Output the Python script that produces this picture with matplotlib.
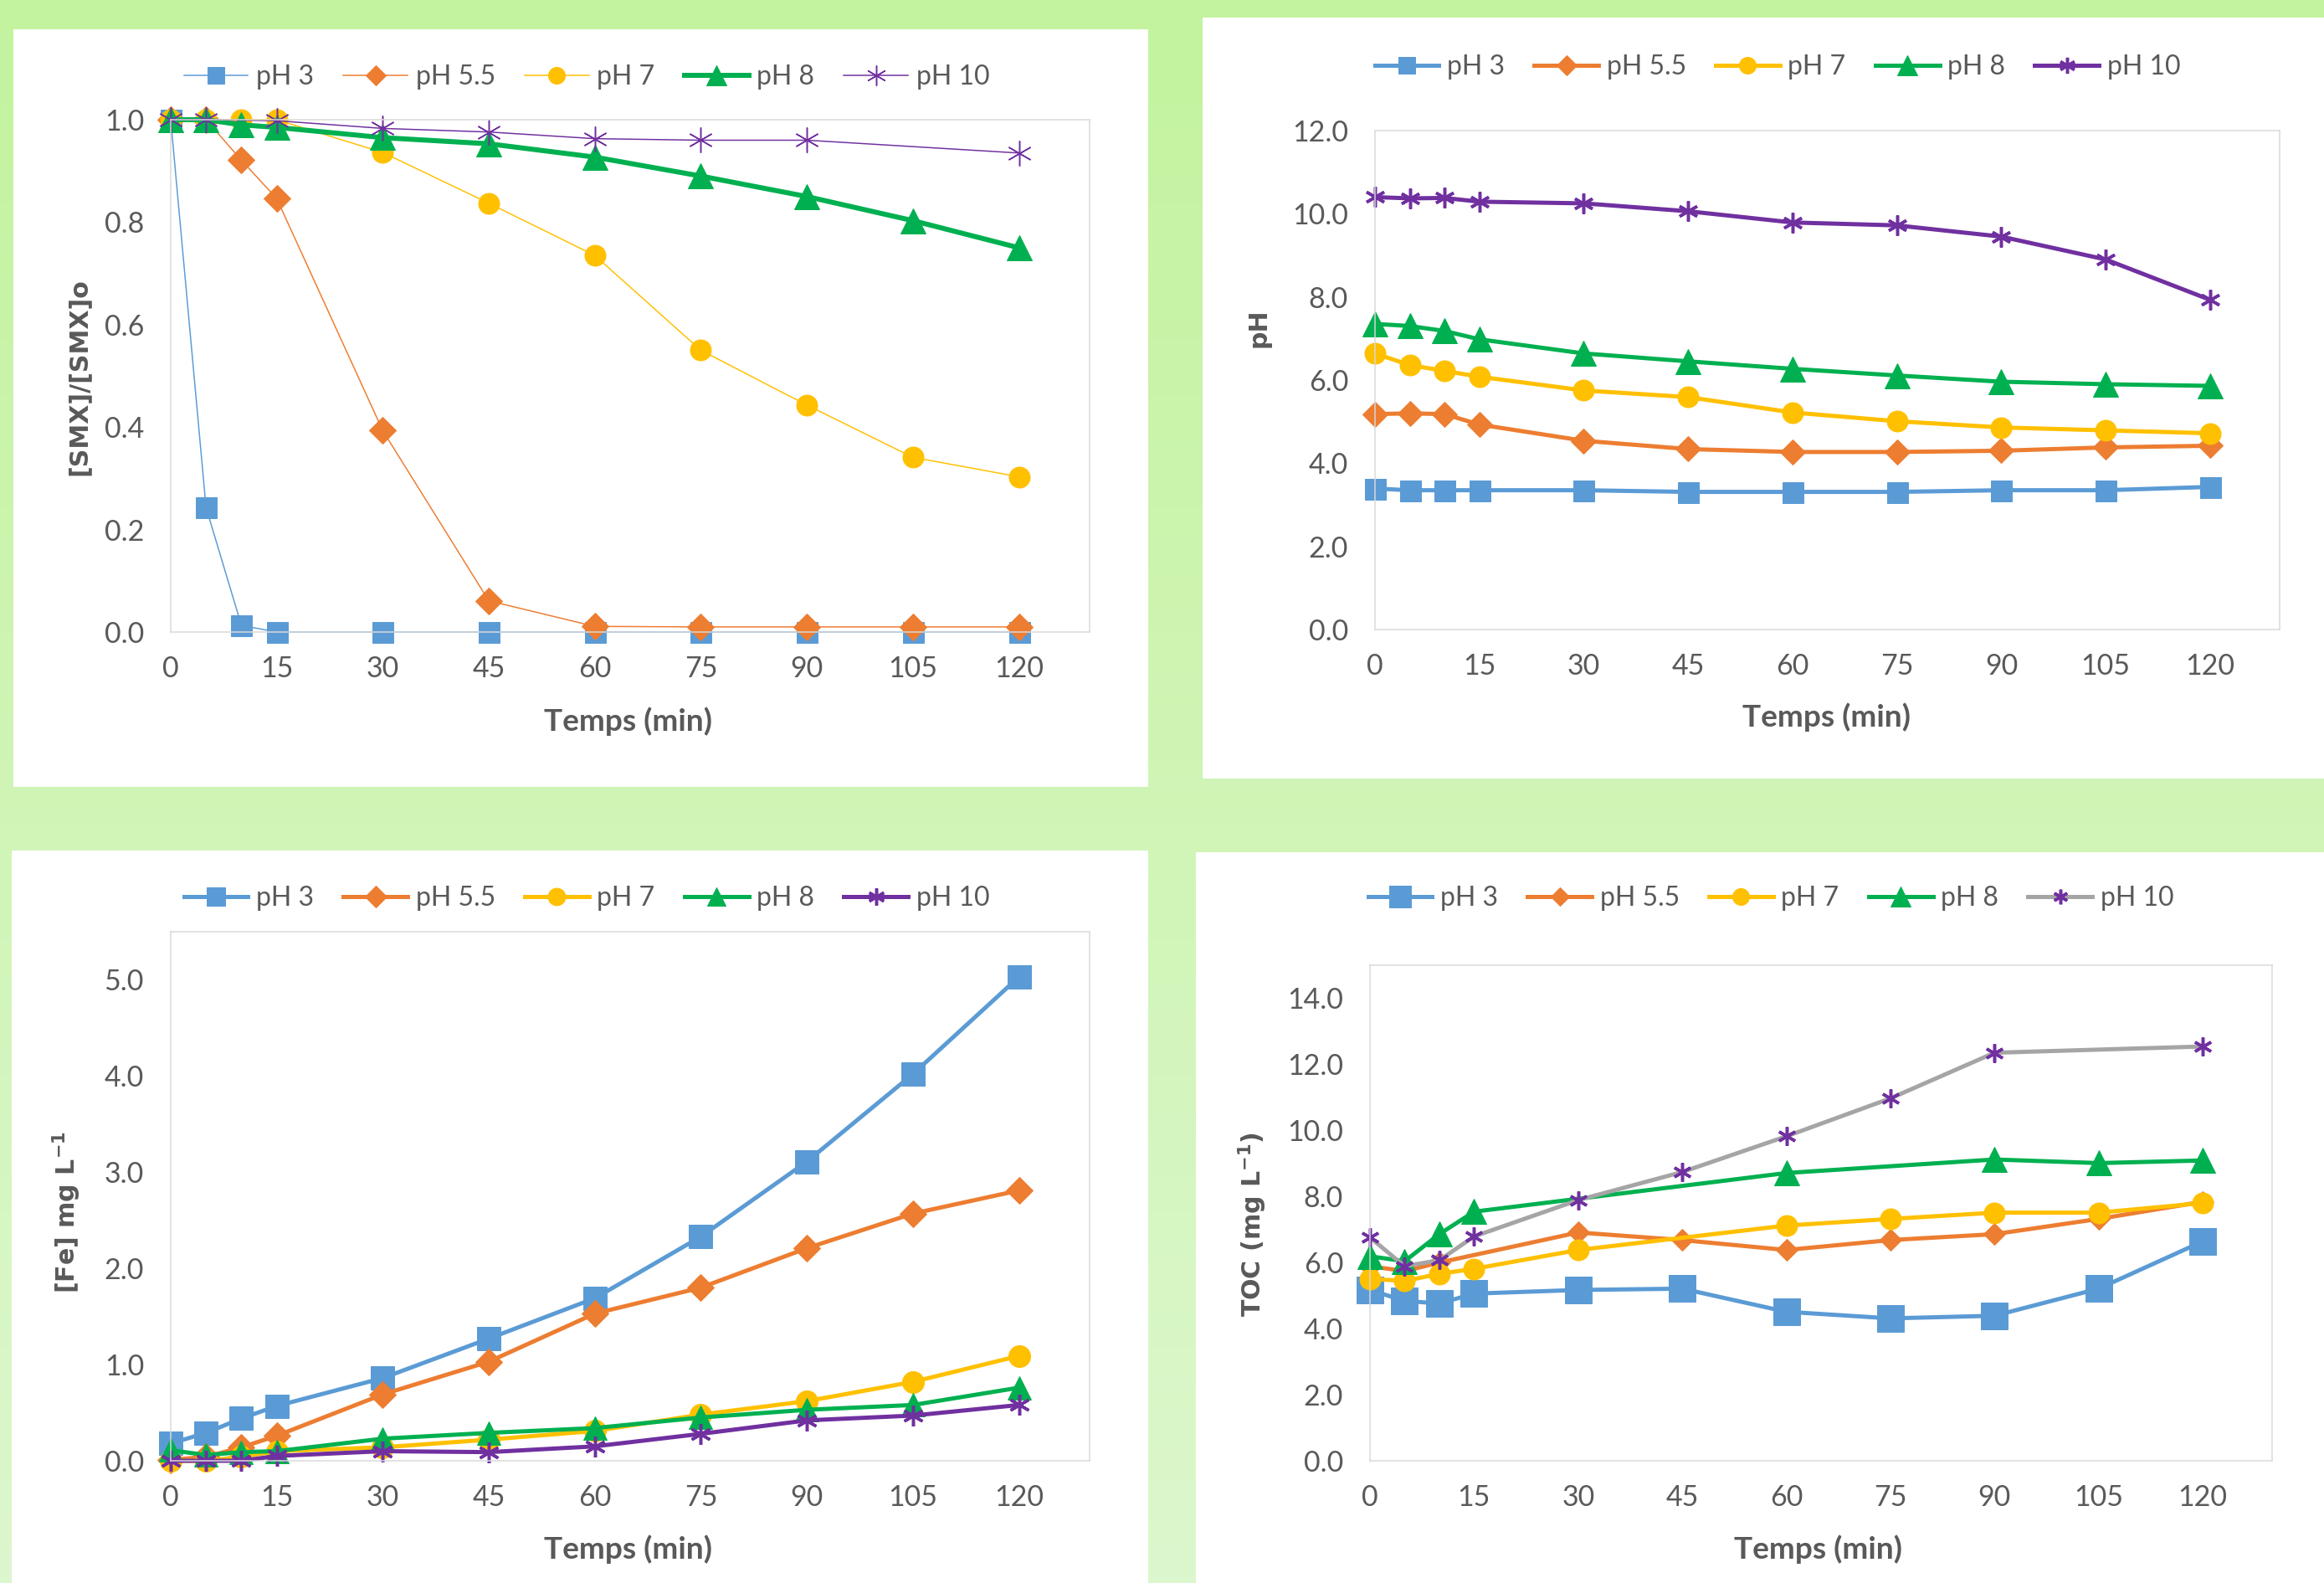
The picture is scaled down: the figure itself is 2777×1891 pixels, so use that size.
import matplotlib

matplotlib.use("Agg")
import matplotlib.pyplot as plt
import numpy as np
from matplotlib.colors import to_rgb
from matplotlib.patches import Rectangle
import matplotlib.ticker as mticker

W, H = 2777, 1891
DPI = 72

TIME = [0, 5, 10, 15, 30, 45, 60, 75, 90, 105, 120]
XTICKS = [0, 15, 30, 45, 60, 75, 90, 105, 120]
LABELS = ["pH 3", "pH 5.5", "pH 7", "pH 8", "pH 10"]

# [SMX]/[SMX]o
SMX_PH3 = [1.0, 0.243, 0.013, 0.0, 0.0, 0.0, 0.0, 0.0, 0.0, 0.0, 0.0]
SMX_PH55 = [1.0, 1.0, 0.921, 0.846, 0.393, 0.061, 0.011, 0.010, 0.010, 0.010, 0.010]
SMX_PH7 = [1.0, 1.0, 1.0, 1.0, 0.936, 0.837, 0.735, 0.55, 0.443, 0.341, 0.303]
SMX_PH8 = [1.0, 1.0, 0.99, 0.985, 0.965, 0.953, 0.927, 0.89, 0.85, 0.803, 0.75]
SMX_PH10_T = [0, 5, 15, 30, 45, 60, 75, 90, 120]
SMX_PH10 = [1.0, 1.0, 0.998, 0.983, 0.976, 0.963, 0.96, 0.96, 0.935]

# pH over time
PH_PH3 = [3.39, 3.35, 3.35, 3.35, 3.35, 3.31, 3.31, 3.31, 3.35, 3.35, 3.43]
PH_PH55 = [5.18, 5.20, 5.18, 4.93, 4.54, 4.34, 4.27, 4.27, 4.30, 4.38, 4.42]
PH_PH7 = [6.64, 6.36, 6.22, 6.08, 5.75, 5.59, 5.22, 5.01, 4.86, 4.79, 4.72]
PH_PH8 = [7.35, 7.30, 7.18, 6.98, 6.64, 6.45, 6.27, 6.11, 5.96, 5.90, 5.86]
PH_PH10 = [10.40, 10.37, 10.38, 10.29, 10.25, 10.06, 9.79, 9.72, 9.45, 8.90, 7.93]

# dissolved iron, mg/L
FE_PH3 = [0.18, 0.29, 0.44, 0.57, 0.86, 1.27, 1.69, 2.33, 3.11, 4.02, 5.03]
FE_PH55 = [0.01, 0.04, 0.14, 0.26, 0.69, 1.03, 1.53, 1.80, 2.21, 2.57, 2.81]
FE_PH7 = [0.0, 0.0, 0.04, 0.10, 0.14, 0.22, 0.31, 0.48, 0.62, 0.82, 1.09]
FE_PH8 = [0.11, 0.06, 0.09, 0.10, 0.23, 0.29, 0.34, 0.45, 0.53, 0.58, 0.76]
FE_PH10 = [0.0, 0.0, 0.0, 0.05, 0.10, 0.09, 0.15, 0.28, 0.42, 0.47, 0.58]

# TOC, mg/L
TOC_PH3 = [5.17, 4.84, 4.76, 5.06, 5.17, 5.21, 4.51, 4.31, 4.39, 5.21, 6.64]
TOC_PH55_T = [0, 5, 10, 30, 45, 60, 75, 90, 105, 120]
TOC_PH55 = [5.89, 5.74, 6.0, 6.91, 6.68, 6.38, 6.68, 6.86, 7.32, 7.84]
TOC_PH7_T = [0, 5, 10, 15, 30, 60, 75, 90, 105, 120]
TOC_PH7 = [5.51, 5.44, 5.66, 5.81, 6.38, 7.12, 7.32, 7.51, 7.51, 7.80]
TOC_PH8_T = [0, 5, 10, 15, 60, 90, 105, 120]
TOC_PH8 = [6.19, 6.04, 6.86, 7.54, 8.71, 9.12, 9.01, 9.09]
TOC_PH10_T = [0, 5, 10, 15, 30, 45, 60, 75, 90, 120]
TOC_PH10 = [6.76, 5.89, 6.07, 6.79, 7.89, 8.74, 9.82, 10.97, 12.35, 12.54]

BLUE, ORANGE, YELLOW, GREEN, PURPLE, GRAY = "#5B9BD5", "#ED7D31", "#FFC000", "#00B050", "#7030A0", "#A5A5A5"
TEXT = "#595959"
STAR = (6, 2, 0)

plt.rcParams["mathtext.fontset"] = "dejavusans"
plt.rcParams["mathtext.default"] = "bf"

fig = plt.figure(figsize=(W / DPI, H / DPI), dpi=DPI)


def px_rect(x0, y0, x1, y1):
    return [x0 / W, 1 - y1 / H, (x1 - x0) / W, (y1 - y0) / H]


def fig_xy(x, y):
    return x / W, 1 - y / H


# light green backdrop, brighter at the top
bg = fig.add_axes([0, 0, 1, 1], zorder=-10)
top, bottom = np.array(to_rgb("#C3F39E")), np.array(to_rgb("#DCF7CD"))
grad = np.linspace(0, 1, 256)[:, None, None]
bg.imshow(top + (bottom - top) * grad, aspect="auto", extent=(0, 1, 0, 1))
bg.set_axis_off()


def draw_panel(box, plot, ylim, yticks, series, legend_xy, ylabel, ylabel_xy, xlabel_xy):
    fig.patches.append(Rectangle(fig_xy(box[0], box[3]), (box[2] - box[0]) / W, (box[3] - box[1]) / H,
                                 transform=fig.transFigure, facecolor="white", edgecolor="none", zorder=-5))
    ax = fig.add_axes(px_rect(*plot))
    for x, y, label, color, lw, marker, ms, mec, mew in series:
        ax.plot(x, y, color=color, lw=lw, marker=marker, ms=ms, mfc=mec, mec=mec, mew=mew,
                label=label, clip_on=False, solid_joinstyle="round")
    ax.set_xlim(0, 130)
    ax.set_ylim(*ylim)
    ax.set_xticks(XTICKS)
    ax.set_yticks(yticks)
    ax.yaxis.set_major_formatter(mticker.FormatStrFormatter("%.1f"))
    for sp in ax.spines.values():
        sp.set_color("#D9D9D9")
        sp.set_linewidth(1.5)
    ax.tick_params(length=0, labelsize=34, labelcolor=TEXT)
    ax.tick_params(axis="y", pad=32)
    ax.tick_params(axis="x", pad=28)
    for lab in ax.get_xticklabels() + ax.get_yticklabels():
        lab.set_family("Lato")
    leg = ax.legend(loc="center", bbox_to_anchor=fig_xy(*legend_xy), bbox_transform=fig.transFigure,
                    ncol=5, frameon=False, prop={"family": "Lato", "size": 32}, handlelength=2.4,
                    handletextpad=0.3, columnspacing=1.1, markerscale=0.8)
    for t in leg.get_texts():
        t.set_color(TEXT)
    fig.text(*fig_xy(*ylabel_xy), ylabel, rotation=90, ha="center", va="center",
             family="DejaVu Sans", weight="bold", size=30, color=TEXT)
    fig.text(*fig_xy(*xlabel_xy), "Temps (min)", ha="center", va="center",
             family="Lato", weight="bold", size=37, color=TEXT)
    return ax


smx_series = [
    (TIME, SMX_PH3, LABELS[0], BLUE, 1.5, "s", 25, BLUE, 1),
    (TIME, SMX_PH55, LABELS[1], ORANGE, 1.5, "D", 22, ORANGE, 1),
    (TIME, SMX_PH7, LABELS[2], YELLOW, 1.5, "o", 25, YELLOW, 1),
    (TIME, SMX_PH8, LABELS[3], GREEN, 6, "^", 30, GREEN, 1),
    (SMX_PH10_T, SMX_PH10, LABELS[4], PURPLE, 1.5, STAR, 30, PURPLE, 1.5),
]
draw_panel((16, 35, 1372, 940), (204, 143, 1302, 755), (0, 1.0), [0, 0.2, 0.4, 0.6, 0.8, 1.0],
           smx_series, (701, 92), "[SMX]/[SMX]o", (94, 450), (750, 862))

ph_series = [
    (TIME, PH_PH3, LABELS[0], BLUE, 5, "s", 25, BLUE, 1),
    (TIME, PH_PH55, LABELS[1], ORANGE, 5, "D", 21, ORANGE, 1),
    (TIME, PH_PH7, LABELS[2], YELLOW, 5, "o", 25, YELLOW, 1),
    (TIME, PH_PH8, LABELS[3], GREEN, 5, "^", 30, GREEN, 1),
    (TIME, PH_PH10, LABELS[4], PURPLE, 5, STAR, 24, PURPLE, 3.5),
]
draw_panel((1437, 21, 2777, 930), (1643, 156, 2724, 752), (0, 12), [0, 2, 4, 6, 8, 10, 12],
           ph_series, (2124, 80), "pH", (1504, 392), (2182, 857))

fe_series = [
    (TIME, FE_PH3, LABELS[0], BLUE, 5, "s", 28, BLUE, 1),
    (TIME, FE_PH55, LABELS[1], ORANGE, 5, "D", 23, ORANGE, 1),
    (TIME, FE_PH7, LABELS[2], YELLOW, 5, "o", 26, YELLOW, 1),
    (TIME, FE_PH8, LABELS[3], GREEN, 5, "^", 28, GREEN, 1),
    (TIME, FE_PH10, LABELS[4], PURPLE, 5, STAR, 25, PURPLE, 3.5),
]
draw_panel((14, 1016, 1372, 1891), (204, 1113, 1302, 1745), (0, 5.5), [0, 1, 2, 3, 4, 5],
           fe_series, (701, 1073), "[Fe] mg L$^{-1}$", (80, 1448), (750, 1851))

toc_series = [
    (TIME, TOC_PH3, LABELS[0], BLUE, 5, "s", 32, BLUE, 1),
    (TOC_PH55_T, TOC_PH55, LABELS[1], ORANGE, 5, "D", 19, ORANGE, 1),
    (TOC_PH7_T, TOC_PH7, LABELS[2], YELLOW, 5, "o", 25, YELLOW, 1),
    (TOC_PH8_T, TOC_PH8, LABELS[3], GREEN, 5, "^", 30, GREEN, 1),
    (TOC_PH10_T, TOC_PH10, LABELS[4], GRAY, 5, STAR, 22, PURPLE, 3.5),
]
draw_panel((1429, 1018, 2777, 1891), (1637, 1153, 2715, 1745), (0, 15), [0, 2, 4, 6, 8, 10, 12, 14],
           toc_series, (2116, 1073), "TOC (mg L$^{-1}$)", (1497, 1463), (2173, 1851))

fig.savefig("out.png", dpi=DPI)
